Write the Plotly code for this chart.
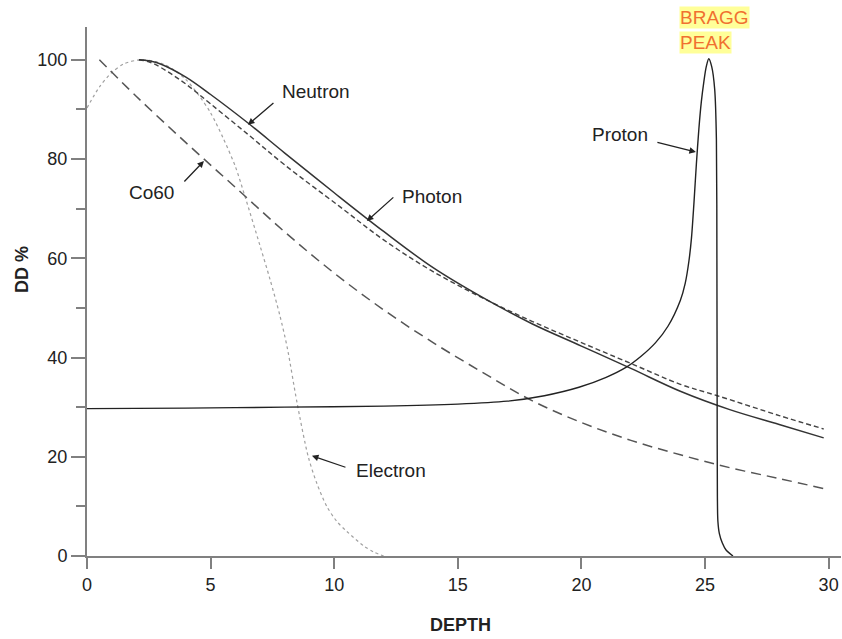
import plotly.graph_objects as go

# ---- data ----
neutron_depth = [2.1, 2.6, 3.0, 4.0, 5.0, 6.5, 8.0, 10.0, 12.0, 14.0, 16.0, 18.0, 20.0, 22.0, 24.0, 26.0, 28.0, 29.8]
neutron_dd = [100, 99.7, 99.1, 96.5, 93.0, 87.3, 81.2, 73.2, 65.4, 58.1, 52.1, 46.8, 42.3, 37.8, 33.2, 29.5, 26.5, 23.8]

photon_depth = [2.1, 2.5, 3.0, 4.0, 5.0, 6.5, 8.0, 10.2, 12.0, 13.9, 16.0, 18.0, 20.0, 22.0, 24.0, 25.5, 28.0, 29.8]
photon_dd = [100, 99.6, 98.4, 95.1, 91.1, 85.0, 78.8, 70.5, 63.7, 57.6, 52.0, 47.3, 43.0, 38.8, 34.6, 32.3, 28.3, 25.6]

co60_depth = [0.5, 2.0, 4.0, 6.0, 8.0, 10.0, 12.0, 14.0, 16.0, 18.0, 20.0, 22.0, 24.0, 26.0, 28.0, 29.8]
co60_dd = [100, 92.6, 83.3, 74.3, 65.3, 57.0, 49.6, 43.0, 37.0, 31.3, 26.9, 23.3, 20.4, 17.8, 15.6, 13.6]

electron_depth = [0.0, 0.5, 1.0, 1.5, 2.2, 3.0, 3.5, 4.0, 4.5, 5.0, 5.5, 6.0, 6.4, 7.0, 7.4, 7.8, 8.1, 8.5, 8.95, 9.3, 9.7, 10.1, 10.5, 11.2, 11.6, 12.0]
electron_dd = [90.3, 94.5, 97.4, 99.2, 100, 99.3, 98.0, 96.0, 93.0, 89.3, 84.3, 78.5, 72.3, 62.5, 55.8, 48.5, 42.0, 30.8, 20.0, 14.6, 10.0, 7.0, 5.0, 2.0, 0.8, 0.0]

proton_depth = [0, 4, 8, 12, 15, 17, 18.5, 19.9, 21, 21.8, 22.4, 23.0, 23.5, 24.0, 24.2, 24.35, 24.45, 24.55, 24.65,
                24.75, 24.85, 24.95, 25.05, 25.15, 25.27, 25.39, 25.46, 25.48, 25.49, 25.5, 25.52, 25.58, 25.7, 25.85, 26.13]
proton_dd = [29.7, 29.8, 30.0, 30.2, 30.6, 31.2, 32.3, 34.0, 36.0, 38.0, 40.2, 43.0, 46.3, 51.5, 55.0, 59.5, 64.0, 71.0, 79.0,
             86.0, 91.5, 95.5, 98.6, 100.2, 98.6, 94.1, 84.0, 60.0, 30.0, 12.0, 7.0, 4.5, 2.6, 1.2, 0.0]

x_ticks = [0, 5, 10, 15, 20, 25, 30]
y_ticks = [0, 20, 40, 60, 80, 100]

FONT = "Liberation Sans, Arial, sans-serif"
TXT = "#222222"
AX = "#808080"

fig = go.Figure()
fig.add_trace(go.Scatter(x=electron_depth, y=electron_dd, mode="lines",
                         line=dict(color="#a0a0a0", width=1.2, dash="dot", shape="spline", smoothing=0.8)))
fig.add_trace(go.Scatter(x=co60_depth, y=co60_dd, mode="lines",
                         line=dict(color="#555555", width=1.5, dash="10px,6px", shape="spline")))
fig.add_trace(go.Scatter(x=photon_depth, y=photon_dd, mode="lines",
                         line=dict(color="#444444", width=1.4, dash="5px,3px", shape="spline")))
fig.add_trace(go.Scatter(x=neutron_depth, y=neutron_dd, mode="lines",
                         line=dict(color="#333333", width=1.5, shape="spline")))
fig.add_trace(go.Scatter(x=proton_depth, y=proton_dd, mode="lines",
                         line=dict(color="#222222", width=1.4, shape="spline", smoothing=0.8)))

# labels with arrows: (text, text_x, text_y, head_x, head_y, ax, ay)
labels = [
    ("Neutron", 9.26, 93.7, 6.51, 86.9, 27, -23),
    ("Photon", 13.95, 72.5, 11.32, 67.5, 28, -25),
    ("Co60", 2.59, 73.3, 4.73, 79.6, -21, 22),
    ("Proton", 21.55, 85.0, 24.63, 81.4, -40, -10),
    ("Electron", 12.29, 17.2, 9.10, 20.2, 35, 12),
]
for text, tx, ty, hx, hy, ax, ay in labels:
    fig.add_annotation(x=tx, y=ty, text=text, showarrow=False,
                       font=dict(family=FONT, size=19, color=TXT))
    fig.add_annotation(x=hx, y=hy, text="", showarrow=True, ax=ax, ay=ay,
                       arrowhead=2, arrowsize=1, arrowwidth=1.3, arrowcolor="#222222")

fig.add_annotation(xref="paper", yref="paper", x=0.785, y=1.0189, text="BRAGG", showarrow=False,
                   xanchor="left", yanchor="middle",
                   font=dict(family=FONT, size=19, color="#f07030"), bgcolor="#ffff99", borderpad=0)
fig.add_annotation(xref="paper", yref="paper", x=0.785, y=0.9698, text="PEAK", showarrow=False,
                   xanchor="left", yanchor="middle",
                   font=dict(family=FONT, size=19, color="#f07030"), bgcolor="#ffff99", borderpad=0)

fig.add_annotation(xref="paper", yref="paper", x=-0.0862, y=0.5406, text="<b>DD %</b>", textangle=-90,
                   xanchor="center", yanchor="middle",
                   showarrow=False, font=dict(family=FONT, size=18, color=TXT))
fig.add_annotation(xref="paper", yref="paper", x=0.496, y=-0.1304, text="<b>DEPTH</b>",
                   xanchor="center", yanchor="middle",
                   showarrow=False, font=dict(family=FONT, size=18, color=TXT))

fig.update_layout(
    width=842, height=639,
    margin=dict(l=87, r=1, t=27, b=83),
    plot_bgcolor="white", paper_bgcolor="white",
    showlegend=False,
    font=dict(family=FONT, size=18, color=TXT),
    xaxis=dict(range=[0, 30.5], tickvals=x_ticks, showgrid=False, zeroline=False,
               showline=True, linecolor=AX, linewidth=2,
               ticks="outside", ticklen=11, tickwidth=2, tickcolor=AX,
               tickfont=dict(family=FONT, size=18, color=TXT)),
    yaxis=dict(range=[0, 106.6], tickvals=y_ticks, showgrid=False, zeroline=False,
               showline=True, linecolor=AX, linewidth=2,
               ticks="outside", ticklen=14, tickwidth=2, tickcolor=AX,
               minor=dict(tickvals=[10, 30, 50, 70, 90], ticks="outside", ticklen=9, tickwidth=2, tickcolor=AX),
               tickfont=dict(family=FONT, size=18, color=TXT)),
)

fig.write_html("out.html")
